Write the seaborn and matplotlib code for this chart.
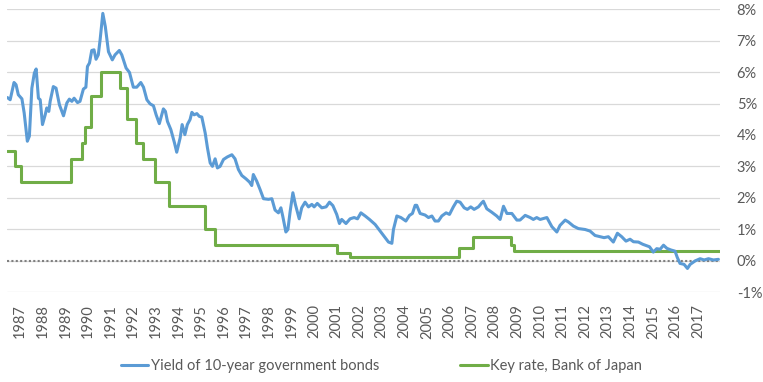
import numpy as np
import pandas as pd
import matplotlib
matplotlib.use("Agg")
import matplotlib.pyplot as plt
from matplotlib.ticker import PercentFormatter
import seaborn as sns

# Yield of 10-year JGBs (%, decimal years)
bond_years = [1986.44, 1986.56, 1986.73, 1986.82, 1986.92, 1987.08, 1987.18, 1987.32, 1987.41, 1987.52,
              1987.63, 1987.71, 1987.81, 1987.89, 1987.99, 1988.11, 1988.18, 1988.27, 1988.33, 1988.47,
              1988.59, 1988.74, 1988.92, 1989.07, 1989.18, 1989.29, 1989.39, 1989.54, 1989.65, 1989.80,
              1989.91, 1989.98, 1990.07, 1990.17, 1990.27, 1990.36, 1990.46, 1990.54, 1990.66, 1990.77,
              1990.91, 1991.08, 1991.20, 1991.39, 1991.50, 1991.69, 1991.84, 1992.01, 1992.16, 1992.34,
              1992.46, 1992.61, 1992.75, 1992.90, 1993.02, 1993.16, 1993.34, 1993.43, 1993.52, 1993.67,
              1993.83, 1993.93, 1994.08, 1994.17, 1994.29, 1994.40, 1994.52, 1994.60, 1994.70, 1994.82,
              1994.93, 1995.04, 1995.19, 1995.29, 1995.41, 1995.51, 1995.63, 1995.73, 1995.85, 1996.00,
              1996.17, 1996.37, 1996.51, 1996.66, 1996.81, 1997.00, 1997.15, 1997.25, 1997.32, 1997.47,
              1997.62, 1997.77, 1997.99, 1998.14, 1998.28, 1998.43, 1998.54, 1998.62, 1998.76, 1998.85,
              1998.95, 1999.07, 1999.18, 1999.35, 1999.46, 1999.61, 1999.76, 1999.91, 2000.01, 2000.15,
              2000.35, 2000.54, 2000.69, 2000.84, 2001.01, 2001.13, 2001.23, 2001.42, 2001.60, 2001.78,
              2001.93, 2002.08, 2002.27, 2002.46, 2002.71, 2002.93, 2003.15, 2003.30, 2003.45, 2003.52,
              2003.67, 2003.85, 2004.07, 2004.23, 2004.36, 2004.48, 2004.55, 2004.70, 2004.92, 2005.07,
              2005.22, 2005.36, 2005.51, 2005.66, 2005.85, 2006.00, 2006.17, 2006.32, 2006.47, 2006.65,
              2006.79, 2006.94, 2007.09, 2007.28, 2007.43, 2007.50, 2007.65, 2007.87, 2008.09, 2008.24,
              2008.39, 2008.54, 2008.76, 2008.98, 2009.12, 2009.35, 2009.57, 2009.71, 2009.86, 2010.01,
              2010.31, 2010.53, 2010.75, 2010.89, 2011.12, 2011.26, 2011.48, 2011.70, 2012.00, 2012.22,
              2012.44, 2012.66, 2012.84, 2013.03, 2013.25, 2013.43, 2013.62, 2013.81, 2013.99, 2014.14,
              2014.36, 2014.55, 2014.85, 2015.02, 2015.17, 2015.32, 2015.47, 2015.62, 2015.79, 2015.98,
              2016.08, 2016.20, 2016.38, 2016.53, 2016.65, 2016.87, 2017.09, 2017.27, 2017.46, 2017.68,
              2017.90]
bond_yield = [5.19, 5.12, 5.67, 5.60, 5.28, 5.15, 4.70, 3.80, 3.96, 5.49,
              5.97, 6.10, 5.17, 5.12, 4.33, 4.64, 4.86, 4.75, 5.07, 5.54,
              5.49, 4.96, 4.61, 5.02, 5.14, 5.07, 5.17, 5.03, 5.07, 5.46,
              5.52, 6.18, 6.29, 6.69, 6.71, 6.41, 6.55, 7.03, 7.87, 7.45,
              6.65, 6.39, 6.55, 6.69, 6.55, 6.13, 5.99, 5.52, 5.52, 5.67,
              5.52, 5.12, 4.99, 4.93, 4.64, 4.36, 4.83, 4.75, 4.43, 4.17,
              3.75, 3.45, 3.90, 4.33, 4.01, 4.33, 4.49, 4.72, 4.64, 4.68,
              4.59, 4.57, 4.06, 3.59, 3.11, 3.00, 3.24, 2.95, 3.00, 3.22,
              3.30, 3.37, 3.24, 2.90, 2.71, 2.60, 2.50, 2.39, 2.74, 2.53,
              2.26, 1.97, 1.95, 1.97, 1.61, 1.52, 1.68, 1.42, 0.91, 0.99,
              1.57, 2.16, 1.79, 1.33, 1.68, 1.86, 1.71, 1.79, 1.71, 1.82,
              1.68, 1.71, 1.86, 1.75, 1.47, 1.18, 1.31, 1.18, 1.33, 1.37,
              1.33, 1.52, 1.42, 1.31, 1.15, 0.94, 0.73, 0.59, 0.55, 0.99,
              1.42, 1.37, 1.26, 1.44, 1.50, 1.76, 1.76, 1.50, 1.45, 1.37,
              1.42, 1.26, 1.26, 1.42, 1.52, 1.47, 1.71, 1.89, 1.86, 1.68,
              1.63, 1.71, 1.63, 1.71, 1.84, 1.89, 1.65, 1.54, 1.42, 1.31,
              1.73, 1.50, 1.50, 1.29, 1.29, 1.44, 1.37, 1.31, 1.37, 1.31,
              1.37, 1.08, 0.91, 1.12, 1.29, 1.23, 1.10, 1.02, 0.99, 0.94,
              0.80, 0.76, 0.73, 0.76, 0.59, 0.87, 0.76, 0.62, 0.68, 0.60,
              0.59, 0.52, 0.44, 0.27, 0.38, 0.36, 0.49, 0.39, 0.34, 0.30,
              0.10, -0.09, -0.12, -0.25, -0.12, -0.01, 0.06, 0.02, 0.06, 0.02,
              0.04]

# Key rate of the Bank of Japan: date of each change and the new level (%)
key_years = [1986.42, 1986.78, 1987.02, 1989.25, 1989.72, 1989.86, 1990.12, 1990.56, 1991.40, 1991.74,
             1992.13, 1992.43, 1992.97, 1993.61, 1995.19, 1995.63, 2001.01, 2001.60, 2006.44, 2007.06,
             2008.71, 2008.85, 2017.97]
key_rate = [3.5, 3.0, 2.5, 3.25, 3.75, 4.25, 5.25, 6.0, 5.5, 4.5,
            3.75, 3.25, 2.5, 1.75, 1.0, 0.5, 0.25, 0.1, 0.4, 0.75,
            0.5, 0.3, 0.3]

tick_years = list(range(1987, 2018))

BLUE = "#5B9BD5"
GREEN = "#70AD47"
TEXT = "#595959"

sns.set_style("white")
plt.rcParams['font.family'] = ['Lato', 'DejaVu Sans']
plt.rcParams['font.size'] = 10.5
plt.rcParams['axes.unicode_minus'] = False

bonds = pd.DataFrame({'year': bond_years, 'value': bond_yield})
rates = pd.DataFrame({'year': key_years, 'value': key_rate})

fig = plt.figure(figsize=(7.63, 3.82), dpi=100)
ax = fig.add_axes([7 / 763, 1 - 292 / 382, 713 / 763, (292 - 9.3) / 382])

# zero line and grid
ax.axhline(0, color="#808080", lw=1.5, ls=(0, (1, 1.1)), zorder=1)
ax.set_yticks(range(-1, 9))
ax.yaxis.grid(True, color="#D9D9D9", lw=0.9)
ax.set_axisbelow(True)

sns.lineplot(data=bonds, x='year', y='value', ax=ax, color=BLUE, lw=2.2, sort=False,
             label='Yield of 10-year government bonds', zorder=3)
sns.lineplot(data=rates, x='year', y='value', ax=ax, color=GREEN, lw=2.2, sort=False,
             drawstyle='steps-post', label='Key rate, Bank of Japan', zorder=2)

ax.set_xlim(1986.42, 2017.97)
ax.set_ylim(-1, 8)
ax.set_xlabel('')
ax.set_ylabel('')

ax.set_xticks(tick_years)
ax.set_xticklabels([str(y) for y in tick_years], rotation=90, color=TEXT)
ax.tick_params(axis='x', length=0, pad=9)

ax.yaxis.tick_right()
ax.yaxis.set_major_formatter(PercentFormatter(decimals=0))
ax.tick_params(axis='y', length=0, pad=12, labelcolor=TEXT)

for side in ['top', 'right', 'left', 'bottom']:
    ax.spines[side].set_visible(False)

handles, labels = ax.get_legend_handles_labels()
ax.get_legend().remove()
fig.legend(handles, labels, loc='center', bbox_to_anchor=(0.5, 1 - 366 / 382), ncol=2,
           frameon=False, handlelength=1.9, handletextpad=0.2, columnspacing=5.5,
           labelcolor=TEXT)

fig.savefig('out.png', dpi=100)
